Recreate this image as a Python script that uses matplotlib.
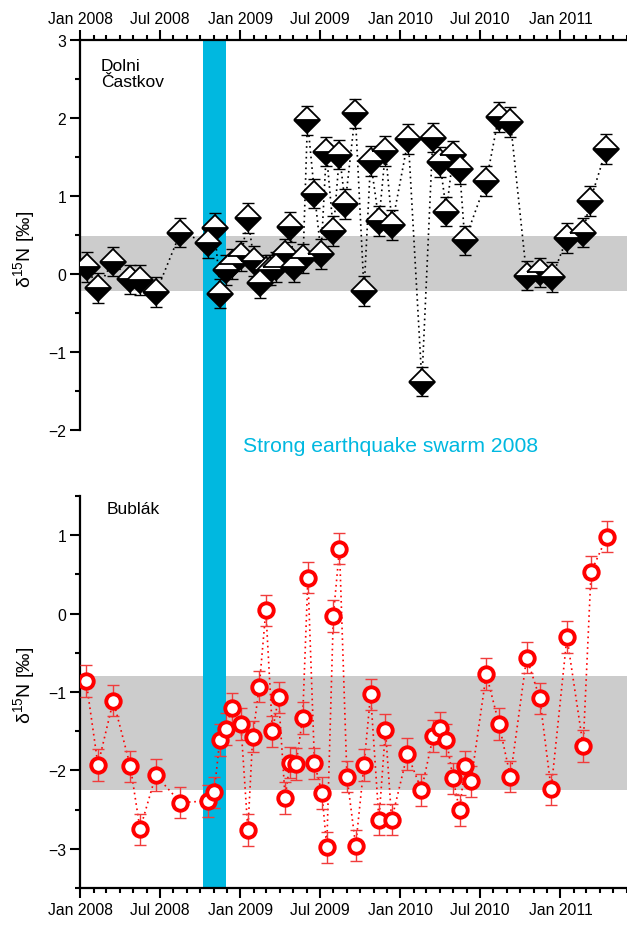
import matplotlib
matplotlib.use("Agg")
import matplotlib.pyplot as plt
import matplotlib.dates as mdates
from matplotlib.ticker import MultipleLocator
from matplotlib.patches import Rectangle
from matplotlib.transforms import blended_transform_factory
import pandas as pd

plt.rcParams['font.family'] = ['Liberation Sans', 'DejaVu Sans']
plt.rcParams['mathtext.fontset'] = 'custom'
plt.rcParams['mathtext.rm'] = 'Liberation Sans'
plt.rcParams['mathtext.it'] = 'Liberation Sans:italic'

# ---------------- data ----------------
dates_dc = ['2008-01-16','2008-02-11','2008-03-16','2008-04-23','2008-05-16','2008-06-23','2008-08-17',
            '2008-10-19','2008-11-03','2008-11-16','2008-11-29','2008-12-12','2009-01-03','2009-01-18',
            '2009-02-01','2009-02-14','2009-02-28','2009-03-09','2009-03-24','2009-04-13','2009-04-24',
            '2009-05-04','2009-05-24','2009-06-03','2009-06-19','2009-07-04','2009-07-16','2009-08-01',
            '2009-08-15','2009-08-28','2009-09-20','2009-10-10','2009-10-25','2009-11-13','2009-11-28',
            '2009-12-13','2010-01-19','2010-02-19','2010-03-16','2010-04-01','2010-04-16','2010-05-01',
            '2010-05-16','2010-05-28','2010-07-16','2010-08-13','2010-09-09','2010-10-16','2010-11-16',
            '2010-12-13','2011-01-16','2011-02-22','2011-03-10','2011-04-16']
d15n_dc = [0.09,-0.18,0.16,-0.07,-0.08,-0.23,0.53,0.40,0.59,-0.25,0.05,0.13,0.23,0.72,0.17,-0.12,
           0.05,0.05,0.09,0.26,0.60,0.09,0.20,1.97,1.03,0.26,1.57,0.55,1.53,0.90,2.06,-0.22,1.45,
           0.68,1.58,0.63,1.73,-1.38,1.75,1.44,0.80,1.52,1.35,0.43,1.19,2.01,1.95,-0.02,0.02,-0.04,
           0.46,0.53,0.94,1.60]
err_dc = 0.19
band_dc = (-0.22, 0.49)

dates_bu = ['2008-01-15','2008-02-11','2008-03-17','2008-04-25','2008-05-17','2008-06-22','2008-08-17',
            '2008-10-18','2008-11-02','2008-11-15','2008-11-28','2008-12-12','2009-01-02','2009-01-18',
            '2009-01-29','2009-02-13','2009-02-28','2009-03-15','2009-03-29','2009-04-13','2009-04-24',
            '2009-05-08','2009-05-23','2009-06-04','2009-06-19','2009-07-06','2009-07-17','2009-08-01',
            '2009-08-15','2009-09-01','2009-09-21','2009-10-10','2009-10-25','2009-11-13','2009-11-28',
            '2009-12-12','2010-01-17','2010-02-18','2010-03-17','2010-04-01','2010-04-16','2010-05-01',
            '2010-05-16','2010-05-28','2010-06-11','2010-07-16','2010-08-14','2010-09-09','2010-10-16',
            '2010-11-15','2010-12-11','2011-01-16','2011-02-22','2011-03-12','2011-04-17']
d15n_bu = [-0.86,-1.93,-1.11,-1.95,-2.75,-2.06,-2.41,-2.39,-2.28,-1.61,-1.47,-1.21,-1.41,-2.76,-1.57,
           -0.93,0.04,-1.50,-1.07,-2.35,-1.90,-1.92,-1.33,0.46,-1.91,-2.29,-2.98,-0.03,0.83,-2.08,
           -2.96,-1.93,-1.03,-2.63,-1.48,-2.63,-1.79,-2.25,-1.56,-1.46,-1.61,-2.10,-2.51,-1.95,-2.14,
           -0.77,-1.41,-2.08,-0.56,-1.08,-2.24,-0.30,-1.69,0.53,0.98]
err_bu = 0.2
band_bu = (-2.25, -0.80)

swarm = ('2008-10-07', '2008-11-28')
xlim = ('2008-01-01', '2011-06-02')
site_top = 'Dolni\nČastkov'
site_bottom = 'Bublák'
swarm_label = 'Strong earthquake swarm 2008'
ylab = 'δ$^{15}$N [‰]'

CYAN = '#00b8e0'
W, H = 627, 928
fig = plt.figure(figsize=(W/100, H/100), dpi=100)

left = 80/W
ax1 = fig.add_axes([left, 1-431/H, 1-left, (431-41)/H])
ax2 = fig.add_axes([left, 1-889/H, 1-left, (889-497)/H])

t_dc = pd.to_datetime(dates_dc)
t_bu = pd.to_datetime(dates_bu)
s0, s1 = pd.to_datetime(swarm[0]), pd.to_datetime(swarm[1])
x0, x1 = pd.to_datetime(xlim[0]), pd.to_datetime(xlim[1])

dot = (0, (1, 2.2))

for ax in (ax1, ax2):
    ax.set_xlim(x0, x1)
    ax.axvspan(s0, s1, color=CYAN, lw=0, zorder=1)
    ax.xaxis.set_major_locator(mdates.MonthLocator(bymonth=[1, 7]))
    ax.xaxis.set_minor_locator(mdates.MonthLocator())
    ax.xaxis.set_major_formatter(mdates.DateFormatter('%b %Y'))
    ax.yaxis.set_major_locator(MultipleLocator(1))
    ax.yaxis.set_minor_locator(MultipleLocator(0.5))
    ax.tick_params(which='major', direction='out', length=7, width=1.5, labelsize=11.3, pad=3)
    ax.tick_params(which='minor', direction='out', length=3.6, width=1.5)
    for sp in ax.spines.values():
        sp.set_linewidth(1.6)
    ax.spines['right'].set_visible(False)

# top panel
ax1.set_ylim(-2, 3)
ax1.axhspan(band_dc[0], band_dc[1], color='#cccccc', lw=0, zorder=0)
ax1.plot(t_dc, d15n_dc, color='black', ls=dot, lw=1.2, zorder=2)
ax1.errorbar(t_dc, d15n_dc, yerr=err_dc, fmt='none', ecolor='black', elinewidth=1.0,
             capsize=4, capthick=1.0, zorder=3)
ax1.plot(t_dc, d15n_dc, ls='none', marker='D', ms=13.5, fillstyle='bottom',
         markerfacecolor='black', markerfacecoloralt='white', markeredgecolor='black',
         mew=1.3, zorder=4)
ax1.xaxis.tick_top()
ax1.spines['bottom'].set_visible(False)
ax1.set_ylabel(ylab, fontsize=14)
ax1.yaxis.set_label_coords(-0.079, 0.465)
ax1.text(101/W, 1-59/H, site_top, transform=fig.transFigure, fontsize=12.5, ha='left', va='top',
         linespacing=1.1)

# bottom panel
ax2.set_ylim(-3.5, 1.5)
ax2.axhspan(band_bu[0], band_bu[1], color='#cccccc', lw=0, zorder=0)
ax2.plot(t_bu, d15n_bu, color='red', ls=dot, lw=1.2, zorder=2)
ax2.errorbar(t_bu, d15n_bu, yerr=err_bu, fmt='none', ecolor='#f03c3c', elinewidth=1.0,
             capsize=4, capthick=1.0, zorder=3)
ax2.plot(t_bu, d15n_bu, ls='none', marker='o', ms=10.4, markerfacecolor='white',
         markeredgecolor='red', mew=2.8, zorder=4)
ax2.spines['top'].set_visible(False)
ax2.set_ylabel(ylab, fontsize=14)
ax2.yaxis.set_label_coords(-0.079, 0.52)
ax2.text(107/W, 1-502/H, site_bottom, transform=fig.transFigure, fontsize=12.5, ha='left', va='top')

# swarm band across the gap between panels
tr = blended_transform_factory(ax1.transData, fig.transFigure)
fig.add_artist(Rectangle((mdates.date2num(s0), 1-498/H),
                         mdates.date2num(s1)-mdates.date2num(s0), (498-430)/H,
                         transform=tr, color=CYAN, lw=0, zorder=-1))
fig.text(243/W, 1-447/H, swarm_label, color=CYAN, fontsize=15.2, ha='left', va='center')

fig.savefig('out.png', dpi=100)
